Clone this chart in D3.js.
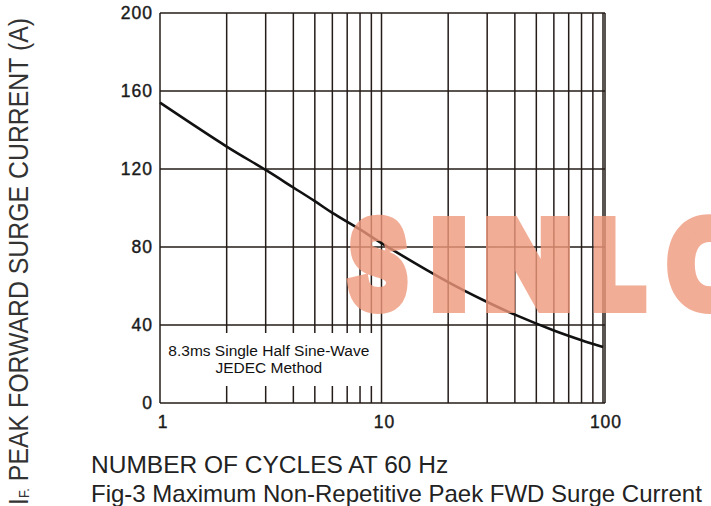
<!DOCTYPE html>
<html lang="en">
  <head>
    <meta charset="utf-8">
    <title>Fig-3 surge current</title>
    <script src="https://d3js.org/d3.v7.min.js"></script>
    <style>
      body { margin: 0; background: #fff; }
      text { font-family: "Liberation Sans", Arial, sans-serif; }
    </style>
  </head>

  <body>

  <script>

// chart values

  var cycles = [1, 2, 3, 4, 5, 6, 8, 10, 20, 30, 40, 60, 80, 100];
  var surge  = [154, 131.5, 119.5, 110.5, 103.5, 97.5, 89, 82, 62, 51.8, 45.3, 37.2, 32.2, 28.7];

  var yTicks = [0, 40, 80, 120, 160, 200];
  var xTicks = [1, 10, 100];
  var xGrid = [2, 3, 4, 5, 6, 7, 8, 9, 10, 20, 30, 40, 50, 60, 70, 80, 90, 100];

  var w = 711;
  var h = 506;
  var margin = {top: 13, right: 106, bottom: 103, left: 160};
  var innerWidth = w - margin.left - margin.right;
  var innerHeight = h - margin.top - margin.bottom;

  var gridColor = "#241c19";

  var svg = d3.select("body")
    .append("svg")
      .attr("width", w)
      .attr("height", h);

  var xScale = d3.scaleLog()
      .domain([1, 100])
      .range([0, innerWidth - 2]);

  var yScale = d3.scaleLinear()
      .domain([0, 200])
      .range([innerHeight, 0]);

  var g = svg.append("g")
      .attr("transform", `translate(${margin.left}, ${margin.top})`);

// grid

  g.selectAll(".hgrid")
      .data(yTicks)
    .enter().append("line")
      .attr("x1", 0)
      .attr("x2", innerWidth)
      .attr("y1", d => yScale(d))
      .attr("y2", d => yScale(d))
      .attr("stroke", gridColor)
      .attr("stroke-width", 1.5);

  g.selectAll(".vgrid")
      .data(xGrid)
    .enter().append("line")
      .attr("x1", d => xScale(d))
      .attr("x2", d => xScale(d))
      .attr("y1", 0)
      .attr("y2", innerHeight)
      .attr("stroke", gridColor)
      .attr("stroke-width", 1.5);

  // left and right border
  g.append("line")
      .attr("x1", 0).attr("x2", 0)
      .attr("y1", 0).attr("y2", innerHeight)
      .attr("stroke", gridColor).attr("stroke-width", 1.5);
  g.append("line")
      .attr("x1", innerWidth).attr("x2", innerWidth)
      .attr("y1", 0).attr("y2", innerHeight)
      .attr("stroke", gridColor).attr("stroke-width", 1.5);

// label box (covers grid lines below 40)

  var boxTop = yScale(40) + 8;
  var boxBottom = innerHeight - 17;
  g.append("rect")
      .attr("x", 1.5)
      .attr("y", boxTop)
      .attr("width", xScale(9.7))
      .attr("height", boxBottom - boxTop)
      .attr("fill", "#fff");

  g.append("text")
      .attr("x", xScale(3.1))
      .attr("y", boxTop + 23)
      .attr("text-anchor", "middle")
      .attr("font-size", 15.5)
      .attr("fill", "#111")
      .text("8.3ms Single Half Sine-Wave");

  g.append("text")
      .attr("x", xScale(3.1))
      .attr("y", boxTop + 40)
      .attr("text-anchor", "middle")
      .attr("font-size", 15.5)
      .attr("fill", "#111")
      .text("JEDEC Method");

// watermark, one heavy letter at a time

  var mark = svg.append("g")
      .attr("opacity", 0.8);

  [["S", 350, 56], ["I", 432, 34], ["N", 485, 86], ["L", 593, 51], ["O", 669, 82]]
    .forEach(function (p) {
      mark.append("text")
          .attr("x", p[1])
          .attr("y", 306)
          .attr("font-family", "DejaVu Sans")
          .attr("font-weight", "bold")
          .attr("font-size", 120)
          .attr("textLength", p[2])
          .attr("lengthAdjust", "spacingAndGlyphs")
          .attr("fill", "#f0997c")
          .attr("stroke", "#f0997c")
          .attr("stroke-width", 14)
          .attr("stroke-linejoin", "miter")
          .text(p[0]);
    });

// curve

  var line = d3.line()
      .x((d, i) => xScale(cycles[i]))
      .y(d => yScale(d))
      .curve(d3.curveCatmullRom.alpha(0.5));

  g.append("path")
      .datum(surge)
      .attr("d", line)
      .attr("fill", "none")
      .attr("stroke", "#111")
      .attr("stroke-width", 2.6);

// tick labels

  g.selectAll(".ylab")
      .data(yTicks)
    .enter().append("text")
      .attr("x", -7)
      .attr("y", d => yScale(d) + 6)
      .attr("text-anchor", "end")
      .attr("font-size", 17.5)
      .attr("letter-spacing", 1)
      .attr("fill", "#1a1a1a")
      .attr("stroke", "#1a1a1a")
      .attr("stroke-width", 0.4)
      .text(d => d);

  g.selectAll(".xlab")
      .data(xTicks)
    .enter().append("text")
      .attr("x", d => xScale(d) + 3)
      .attr("y", innerHeight + 25)
      .attr("text-anchor", "middle")
      .attr("font-size", 17.5)
      .attr("letter-spacing", 1)
      .attr("fill", "#1a1a1a")
      .attr("stroke", "#1a1a1a")
      .attr("stroke-width", 0.4)
      .text(d => d);

// titles

  var ytitle = svg.append("text")
      .attr("transform", "translate(28, 505) rotate(-90)")
      .attr("font-size", 27)
      .attr("textLength", 487)
      .attr("lengthAdjust", "spacingAndGlyphs")
      .attr("fill", "#333");
  ytitle.append("tspan").text("I");
  ytitle.append("tspan").attr("font-size", 14).attr("dy", 1).text("F.");
  ytitle.append("tspan").attr("dy", -1).text("  PEAK FORWARD SURGE CURRENT (A)");

  svg.append("text")
      .attr("x", 91)
      .attr("y", 473)
      .attr("font-size", 24.5)
      .attr("fill", "#222")
      .text("NUMBER OF CYCLES AT 60 Hz");

  svg.append("text")
      .attr("x", 91)
      .attr("y", 502)
      .attr("font-size", 24)
      .attr("fill", "#222")
      .text("Fig-3 Maximum Non-Repetitive Paek FWD Surge Current");

    </script>

  </body>

</html>
